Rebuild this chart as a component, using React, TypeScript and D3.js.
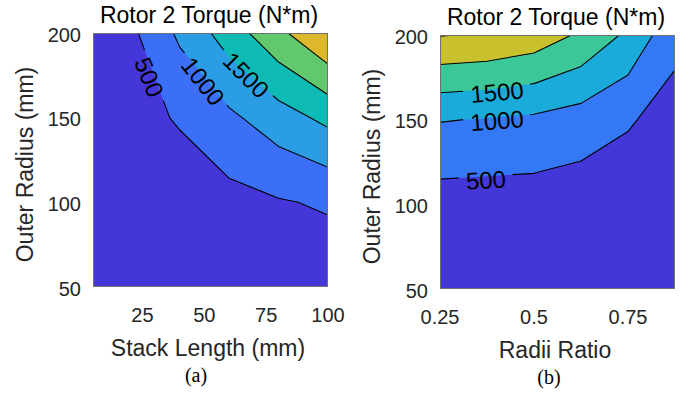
import React from 'react';
import * as d3 from 'd3';

// Grid axes
const stackLength = [5, 20, 40, 60, 80, 100];
const radiiRatio = [0.25, 0.375, 0.5, 0.625, 0.75, 0.875];
const outerRadius = [50, 100, 150, 200];

// Rotor 2 torque (N*m); one row per outer radius (50 -> 200), one column per x value
const torqueByStack = [
  [10, 40, 70, 100, 120, 160],
  [30, 150, 200, 340, 461, 560],
  [60, 300, 550, 900, 1277, 1624],
  [80, 384, 1088, 1740, 2378, 3010],
];
const torqueByRatio = [
  [80, 75, 70, 60, 55, 45],
  [278, 263, 262, 206, 190, 150],
  [1024, 976, 912, 780, 550, 300],
  [2520, 2460, 2293, 1925, 1404, 639],
];

const levelsStack = [500, 1000, 1500, 2000, 2500, 3000];
const levelsRatio = [500, 1000, 1500, 2000, 2500];

const stackTicks = [25, 50, 75, 100];
const ratioTicks = [0.25, 0.5, 0.75];
const radiusTicks = [50, 100, 150, 200];

// Inline contour labels: level, anchor in data units, text angle
const stackLabels = [
  { level: 500, x: 27.7, r: 173.9, angle: 68 },
  { level: 1000, x: 49.5, r: 171.6, angle: 52 },
  { level: 1500, x: 66.9, r: 175.2, angle: 45 },
];
const ratioLabels = [
  { level: 500, x: 0.372, r: 114.4, angle: -3.5 },
  { level: 1000, x: 0.4016, r: 149.5, angle: -4.5 },
  { level: 1500, x: 0.4016, r: 166.3, angle: -5 },
];

// Band fills (below first level, then one per level)
const bandsStack = ['#4436D9', '#3B6FF8', '#2A9DE5', '#0DBAB4', '#62C86E', '#DDB72C', '#F6DF22'];
const bandsRatio = ['#4437DA', '#3478F5', '#1AABDB', '#3BC797', '#C8C12D', '#F3DA24'];

const SANS = '"Liberation Sans", Arial, Helvetica, sans-serif';
const SERIF = '"Liberation Serif", "Times New Roman", serif';

type Label = { level: number; x: number; r: number; angle: number };

type PanelProps = {
  id: string;
  xs: number[];
  grid: number[][];
  levels: number[];
  bands: string[];
  labels: Label[];
  left: number;
  top: number;
  width: number;
  height: number;
  xDomain: [number, number];
  xTicks: number[];
  title: string;
  xLabel: string;
  sub: string;
  subX: number;
  yLabelX: number;
  yLabelY: number;
};

function Panel(p: PanelProps) {
  const x = d3.scaleLinear().domain(p.xDomain).range([p.left, p.left + p.width]);
  const y = d3.scaleLinear().domain([50, 200]).range([p.top + p.height, p.top]);
  const nx = p.xs.length;
  const ny = outerRadius.length;
  const ix = d3.scaleLinear().domain(d3.range(nx)).range(p.xs);
  const iy = d3.scaleLinear().domain(d3.range(ny)).range(outerRadius);
  const flat = p.grid.flat();
  const contours = d3.contours().size([nx, ny]).thresholds(p.levels)(flat);

  const toPx = (pt: number[]) => {
    const u = Math.max(0, Math.min(nx - 1, pt[0] - 0.5));
    const v = Math.max(0, Math.min(ny - 1, pt[1] - 0.5));
    return [x(ix(u)), y(iy(v)), u, v];
  };
  const fmt = (q: number[]) => q[0].toFixed(2) + ',' + q[1].toFixed(2);

  const fillPath = (mp: any) =>
    mp.coordinates
      .map((poly: number[][][]) =>
        poly.map((ring) => 'M' + ring.map((pt) => fmt(toPx(pt))).join('L') + 'Z').join('')
      )
      .join('');

  const onEdge = (a: number[], b: number[]) =>
    (a[2] === 0 && b[2] === 0) ||
    (a[2] === nx - 1 && b[2] === nx - 1) ||
    (a[3] === 0 && b[3] === 0) ||
    (a[3] === ny - 1 && b[3] === ny - 1);

  const linePath = (mp: any) => {
    let d = '';
    mp.coordinates.forEach((poly: number[][][]) => {
      poly.forEach((ring) => {
        const pts = ring.map(toPx);
        let open = false;
        for (let i = 0; i < pts.length - 1; i++) {
          const a = pts[i];
          const b = pts[i + 1];
          if (onEdge(a, b)) {
            open = false;
            continue;
          }
          if (!open) {
            d += 'M' + fmt(a);
            open = true;
          }
          d += 'L' + fmt(b);
        }
      });
    });
    return d;
  };

  const labelSize = 24;
  const maskId = 'gap-' + p.id;
  const clipId = 'clip-' + p.id;
  const bottom = p.top + p.height;
  const cx = p.left + p.width / 2;

  return (
    <g>
      <defs>
        <clipPath id={clipId}>
          <rect x={p.left} y={p.top} width={p.width} height={p.height} />
        </clipPath>
        <mask id={maskId} maskUnits="userSpaceOnUse" x={0} y={0} width={688} height={394}>
          <rect x={0} y={0} width={688} height={394} fill="white" />
          {p.labels.map((l, i) => {
            const w = String(l.level).length * 0.556 * labelSize + 14;
            const h = labelSize * 0.8;
            return (
              <rect
                key={i}
                x={-w / 2}
                y={-h / 2}
                width={w}
                height={h}
                fill="black"
                transform={`translate(${x(l.x)},${y(l.r)}) rotate(${l.angle})`}
              />
            );
          })}
        </mask>
      </defs>

      <g clipPath={`url(#${clipId})`}>
        <rect x={p.left} y={p.top} width={p.width} height={p.height} fill={p.bands[0]} />
        {contours.map((c, i) => (
          <path key={i} d={fillPath(c)} fill={p.bands[i + 1]} fillRule="evenodd" stroke="none" />
        ))}
        <g mask={`url(#${maskId})`}>
          {contours.map((c, i) => (
            <path key={i} d={linePath(c)} fill="none" stroke="#000" strokeWidth={1.1} strokeLinejoin="round" />
          ))}
        </g>
        {p.labels.map((l, i) => (
          <text
            key={i}
            transform={`translate(${x(l.x)},${y(l.r)}) rotate(${l.angle})`}
            textAnchor="middle"
            dy="0.36em"
            fontSize={labelSize}
            fontFamily={SANS}
            fill="#000"
          >
            {l.level}
          </text>
        ))}
      </g>

      <rect
        x={p.left + 0.5}
        y={p.top + 0.5}
        width={p.width - 1}
        height={p.height - 1}
        fill="none"
        stroke="#707070"
        strokeWidth={1}
      />

      {radiusTicks.map((t) => (
        <text
          key={'y' + t}
          x={p.left - 12}
          y={y(t) + 1.5}
          dy="0.36em"
          textAnchor="end"
          fontSize={20}
          fontFamily={SANS}
          fill="#262626"
        >
          {t}
        </text>
      ))}
      {p.xTicks.map((t) => (
        <text
          key={'x' + t}
          x={x(t)}
          y={bottom + 34.5}
          textAnchor="middle"
          fontSize={20}
          fontFamily={SANS}
          fill="#262626"
        >
          {t}
        </text>
      ))}

      <text x={cx - 1.5} y={p.top - 10} textAnchor="middle" fontSize={23} fontFamily={SANS} fill="#000">
        {p.title}
      </text>
      <text x={cx - 2.5} y={bottom + 69} textAnchor="middle" fontSize={23} fontFamily={SANS} fill="#262626">
        {p.xLabel}
      </text>
      <text
        transform={`translate(${p.yLabelX},${p.yLabelY}) rotate(-90)`}
        textAnchor="middle"
        fontSize={23}
        fontFamily={SANS}
        fill="#262626"
      >
        Outer Radius (mm)
      </text>
      <text x={p.subX} y={bottom + 95} textAnchor="middle" fontSize={20} fontFamily={SERIF} fill="#000">
        {p.sub}
      </text>
    </g>
  );
}

export default function App() {
  return (
    <svg
      width={688}
      height={394}
      viewBox="0 0 688 394"
      style={{ position: 'absolute', left: 0, top: 0, background: '#fff' }}
    >
      <rect x={0} y={0} width={688} height={394} fill="#fff" />
      <Panel
        id="a"
        xs={stackLength}
        grid={torqueByStack}
        levels={levelsStack}
        bands={bandsStack}
        labels={stackLabels}
        left={93}
        top={33}
        width={235}
        height={254}
        xDomain={[5, 100]}
        xTicks={stackTicks}
        title="Rotor 2 Torque (N*m)"
        xLabel="Stack Length (mm)"
        sub="(a)"
        subX={196}
        yLabelX={32.5}
        yLabelY={164.5}
      />
      <Panel
        id="b"
        xs={radiiRatio}
        grid={torqueByRatio}
        levels={levelsRatio}
        bands={bandsRatio}
        labels={ratioLabels}
        left={440}
        top={35}
        width={235}
        height={254}
        xDomain={[0.25, 0.875]}
        xTicks={ratioTicks}
        title="Rotor 2 Torque (N*m)"
        xLabel="Radii Ratio"
        sub="(b)"
        subX={549}
        yLabelX={380}
        yLabelY={166.5}
      />
    </svg>
  );
}
